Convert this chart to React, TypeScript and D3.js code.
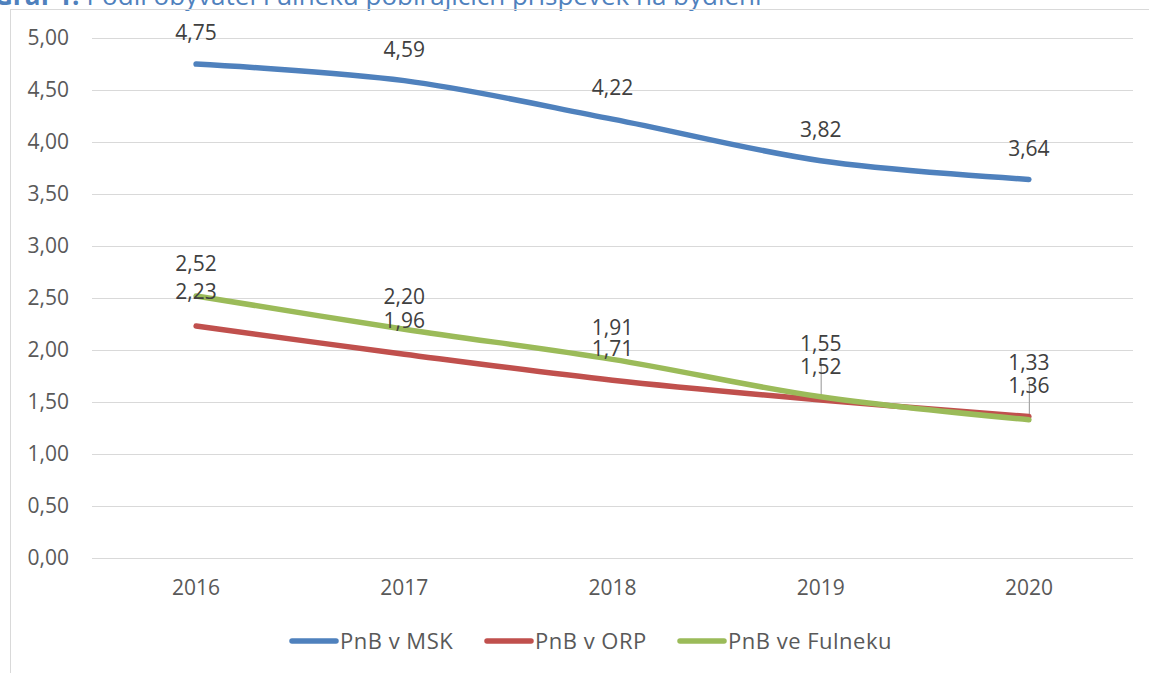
import React from "react";
import * as d3 from "d3";

const years = ["2016", "2017", "2018", "2019", "2020"];
const msk = [4.75, 4.59, 4.22, 3.82, 3.64];
const orp = [2.23, 1.96, 1.71, 1.52, 1.36];
const fulnek = [2.52, 2.2, 1.91, 1.55, 1.33];
const yTicks = [0, 0.5, 1, 1.5, 2, 2.5, 3, 3.5, 4, 4.5, 5];
const seriesNames = ["PnB v MSK", "PnB v ORP", "PnB ve Fulneku"];
const titleBold = "Graf 1:";
const titleRest = "Podíl obyvatel Fulneku pobírajících příspěvek na bydlení";

// styling / layout (not data)
const colors = ["#4f81bd", "#c0504d", "#9bbb59"];
const labelOffsets = [
  [-31, -31, -31, -31, -31],
  [-34, -34, -32, -33, -31],
  [-32, -33, -32, -53, -57],
];
const leaderIdx = [3, 4]; // green labels with leader lines
const legendX = [292, 487, 680];

const W = 1149;
const H = 673;
const FONT = "'Open Sans', 'Noto Sans', sans-serif";

export default function App() {
  const x = d3.scalePoint<string>().domain(years).range([92, 1133]).padding(0.5);
  const y = d3.scaleLinear().domain([0, 5]).range([558, 38]);
  const fmt = (v: number) => v.toFixed(2).replace(".", ",");
  const line = d3
    .line<number>()
    .x((_, i) => x(years[i]) as number)
    .y((d) => y(d))
    .curve(d3.curveCatmullRom.alpha(0.5));
  const series = [msk, orp, fulnek];

  return (
    <div style={{ position: "fixed", left: 0, top: 0, width: W, height: H, background: "#fff" }}>
      <svg width={W} height={H} style={{ display: "block" }} fontFamily={FONT}>
        <rect x={0} y={0} width={W} height={H} fill="#fff" />
        {/* title, cut off at the top */}
        <text x={-6} y={5} fontSize={26} fill="#4f81bd">
          <tspan fontWeight="bold">{titleBold}</tspan>
          <tspan dx={7}>{titleRest}</tspan>
        </text>
        {/* chart area border */}
        <rect x={10.5} y={9.5} width={W + 20} height={H + 20} fill="none" stroke="#d9d9d9" strokeWidth={1} />
        {/* gridlines */}
        {yTicks.map((t) => (
          <line key={t} x1={92} x2={1133} y1={Math.round(y(t)) + 0.5} y2={Math.round(y(t)) + 0.5} stroke="#d9d9d9" strokeWidth={1} />
        ))}
        {/* y tick labels */}
        {yTicks.map((t) => (
          <text key={t} x={69} y={y(t)} dy="0.35em" textAnchor="end" fontSize={21} fill="#595959">
            {fmt(t)}
          </text>
        ))}
        {/* x labels */}
        {years.map((yr) => (
          <text key={yr} x={x(yr)} y={588} dy="0.35em" textAnchor="middle" fontSize={21} fill="#595959">
            {yr}
          </text>
        ))}
        {/* leader lines */}
        {leaderIdx.map((i) => (
          <line
            key={i}
            x1={(x(years[i]) as number) + 0.5}
            x2={(x(years[i]) as number) + 0.5}
            y1={y(fulnek[i]) + labelOffsets[2][i] + 18}
            y2={y(fulnek[i])}
            stroke="#a6a6a6"
            strokeWidth={1.2}
          />
        ))}
        {/* lines */}
        {series.map((s, si) => (
          <path key={si} d={line(s) || ""} fill="none" stroke={colors[si]} strokeWidth={5.5} strokeLinecap="round" strokeLinejoin="round" />
        ))}
        {/* data labels */}
        {series.map((s, si) =>
          s.map((v, i) => (
            <text
              key={si + "-" + i}
              x={x(years[i])}
              y={y(v) + labelOffsets[si][i]}
              dy="0.35em"
              textAnchor="middle"
              fontSize={21}
              fill="#404040"
            >
              {fmt(v)}
            </text>
          ))
        )}
        {/* legend */}
        {seriesNames.map((n, i) => (
          <g key={n}>
            <line x1={legendX[i]} x2={legendX[i] + 44} y1={641} y2={641} stroke={colors[i]} strokeWidth={5.5} strokeLinecap="round" />
            <text x={legendX[i] + 48} y={641} dy="0.35em" fontSize={22} letterSpacing={0.5} fill="#595959">
              {n}
            </text>
          </g>
        ))}
      </svg>
    </div>
  );
}
